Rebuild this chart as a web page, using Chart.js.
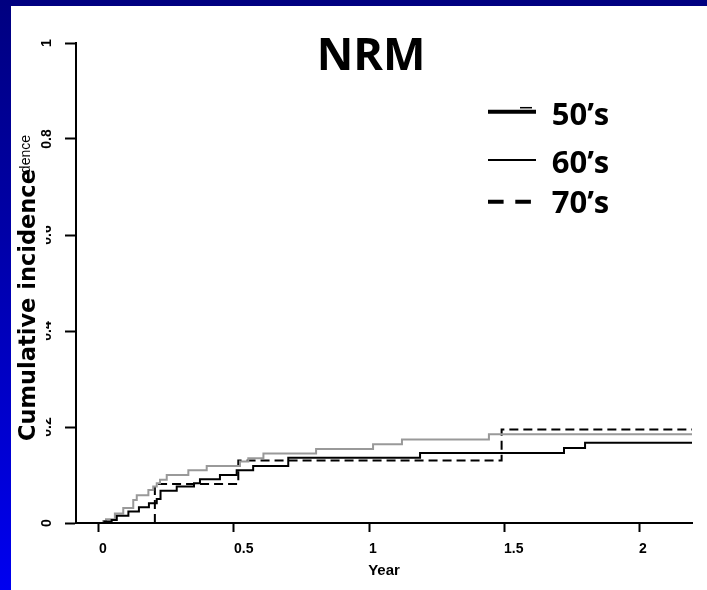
<!DOCTYPE html>
<html><head><meta charset="utf-8">
<script src="https://cdn.jsdelivr.net/npm/chart.js@4"></script>
<style>
html,body{margin:0;padding:0;width:707px;height:590px;overflow:hidden;background:linear-gradient(to bottom,#000080 0%,#0000a8 40%,#0000f0 100%);}
#wrap{position:absolute;left:11px;top:6px;width:696px;height:584px;background:#fff;}
canvas{display:block;}
</style></head><body>
<div id="wrap"><canvas id="c" width="696" height="584"></canvas></div>
<script>
const chartTitle = 'NRM';
const seriesNames = ['50’s', '60’s', '70’s'];
const xAxisTitle = 'Year';
const yAxisTitle = 'Cumulative incidence';

const x50s = [0, 0.02, 0.047, 0.066, 0.109, 0.148, 0.185, 0.214, 0.228, 0.288, 0.352, 0.374, 0.448, 0.51, 0.571, 0.701, 1.189, 1.722, 1.8, 2.196];
const y50s = [0, 0.003, 0.006, 0.015, 0.024, 0.033, 0.041, 0.05, 0.067, 0.076, 0.083, 0.091, 0.1, 0.11, 0.119, 0.136, 0.146, 0.156, 0.167, 0.167];

const x60s = [0, 0.016, 0.026, 0.059, 0.09, 0.127, 0.14, 0.183, 0.201, 0.214, 0.226, 0.251, 0.331, 0.399, 0.522, 0.553, 0.609, 0.804, 1.015, 1.122, 1.444, 2.196];
const y60s = [0, 0.004, 0.008, 0.02, 0.031, 0.048, 0.058, 0.069, 0.076, 0.083, 0.09, 0.1, 0.11, 0.119, 0.128, 0.135, 0.145, 0.154, 0.164, 0.174, 0.185, 0.185];

const x70s = [0, 0.207, 0.516, 1.491, 2.196];
const y70s = [0, 0.081, 0.13, 0.195, 0.195];

const xTickValues = [0, 0.5, 1, 1.5, 2];
const xTickLabels = ['0', '0.5', '1', '1.5', '2'];
const yTickValues = [0, 0.2, 0.4, 0.6, 0.8, 1];
const yTickLabels = ['0', '0.2', '0.4', '0.6', '0.8', '1'];
const xLimits = [-0.085, 2.196];
const yLimits = [0, 1];

function toPoints(xs, ys) { return xs.map((x, i) => ({ x: x, y: ys[i] })); }

const tickFont = { family: '"Liberation Sans", Arial, sans-serif', size: 14, weight: 'bold' };
const measureCtx = document.createElement('canvas').getContext('2d');
function textWidth(t) {
  measureCtx.font = 'bold 14px "Liberation Sans", Arial, sans-serif';
  return measureCtx.measureText(t || '').width;
}

const overlay = {
  id: 'overlay',
  afterDraw(chart) {
    const ctx = chart.ctx;
    ctx.save();
    ctx.fillStyle = '#000';
    // small original axis title (mostly hidden)
    ctx.save();
    ctx.translate(18.5, 129);
    ctx.rotate(-Math.PI / 2);
    ctx.font = '14px "Liberation Sans", Arial, sans-serif';
    ctx.textAlign = 'right';
    ctx.textBaseline = 'alphabetic';
    ctx.fillText(yAxisTitle, 0, 0);
    ctx.restore();
    // white box behind large title
    ctx.fillStyle = '#fff';
    ctx.fillRect(0, 167, 35, 297);
    ctx.fillStyle = '#000';
    // large y title
    ctx.save();
    ctx.translate(24, 299);
    ctx.rotate(-Math.PI / 2);
    ctx.font = 'bold 22.5px "DejaVu Sans", Verdana, sans-serif';
    ctx.textAlign = 'center';
    ctx.textBaseline = 'alphabetic';
    ctx.fillText(yAxisTitle, 0, 0);
    ctx.restore();
    // main title
    ctx.font = 'bold 45px "Open Sans", sans-serif';
    ctx.textAlign = 'center';
    ctx.textBaseline = 'alphabetic';
    ctx.fillText(chartTitle, 360, 64);
    // legend
    ctx.strokeStyle = '#000';
    ctx.lineCap = 'butt';
    const lx0 = 477, lx1 = 525;
    ctx.lineWidth = 4; ctx.setLineDash([]);
    ctx.beginPath(); ctx.moveTo(lx0, 105.7); ctx.lineTo(lx1, 105.7); ctx.stroke();
    ctx.lineWidth = 1.5;
    ctx.beginPath(); ctx.moveTo(509, 101.7); ctx.lineTo(521, 101.7); ctx.stroke();
    ctx.lineWidth = 2;
    ctx.beginPath(); ctx.moveTo(lx0, 154); ctx.lineTo(lx1, 154); ctx.stroke();
    ctx.lineWidth = 4; ctx.setLineDash([15.6, 11.7]);
    ctx.beginPath(); ctx.moveTo(lx0, 195.7); ctx.lineTo(lx1 - 4, 195.7); ctx.stroke();
    ctx.setLineDash([]);
    ctx.font = 'bold 31px "Open Sans", sans-serif';
    ctx.textAlign = 'left';
    const baselines = [119, 167, 207.3];
    seriesNames.forEach((n, i) => ctx.fillText(n, 540.7, baselines[i]));
    ctx.restore();
  }
};

new Chart(document.getElementById('c'), {
  type: 'line',
  data: {
    datasets: [
      { label: seriesNames[0], data: toPoints(x50s, y50s), borderColor: '#000', borderWidth: 2, stepped: 'before', pointRadius: 0, fill: false },
      { label: seriesNames[1], data: toPoints(x60s, y60s), borderColor: '#999', borderWidth: 2, stepped: 'before', pointRadius: 0, fill: false },
      { label: seriesNames[2], data: toPoints(x70s, y70s), borderColor: '#000', borderWidth: 2, borderDash: [9, 5], stepped: 'before', pointRadius: 0, fill: false }
    ]
  },
  options: {
    responsive: false,
    animation: false,
    devicePixelRatio: 1,
    layout: { padding: { left: 20, top: 37, right: 15, bottom: 0 } },
    plugins: { legend: { display: false }, tooltip: { enabled: false }, title: { display: false } },
    scales: {
      x: {
        type: 'linear', min: xLimits[0], max: xLimits[1],
        afterBuildTicks: s => { s.ticks = xTickValues.map(v => ({ value: v })); },
        afterFit: s => { s.height = 67; },
        ticks: {
          autoSkip: false, maxRotation: 0, minRotation: 0, align: 'start', padding: 9,
          color: '#000', font: tickFont,
          callback: v => { const i = xTickValues.indexOf(v); return i >= 0 ? xTickLabels[i] : ''; }
        },
        grid: { drawOnChartArea: false, drawTicks: true, tickLength: 9, tickColor: '#000', tickWidth: 2 },
        border: { display: true, color: '#000', width: 2 },
        title: { display: true, text: xAxisTitle, color: '#000', font: { family: '"Liberation Sans", Arial, sans-serif', size: 15, weight: 'bold' }, padding: { top: 0, bottom: 10 } }
      },
      y: {
        type: 'linear', min: yLimits[0], max: yLimits[1],
        afterBuildTicks: s => { s.ticks = yTickValues.map(v => ({ value: v })); },
        afterFit: s => { s.width = 45; },
        ticks: {
          autoSkip: false, minRotation: 90, maxRotation: 90, crossAlign: 'center', padding: 8,
          labelOffset: c => -textWidth(c.tick && c.tick.label) / 2,
          color: '#000', font: tickFont,
          callback: v => { const i = yTickValues.findIndex(t => Math.abs(t - v) < 1e-9); return i >= 0 ? yTickLabels[i] : ''; }
        },
        grid: { drawOnChartArea: false, drawTicks: true, tickLength: 11, tickColor: '#000', tickWidth: 2 },
        border: { display: true, color: '#000', width: 2 }
      }
    }
  },
  plugins: [overlay]
});
</script>
</body></html>
